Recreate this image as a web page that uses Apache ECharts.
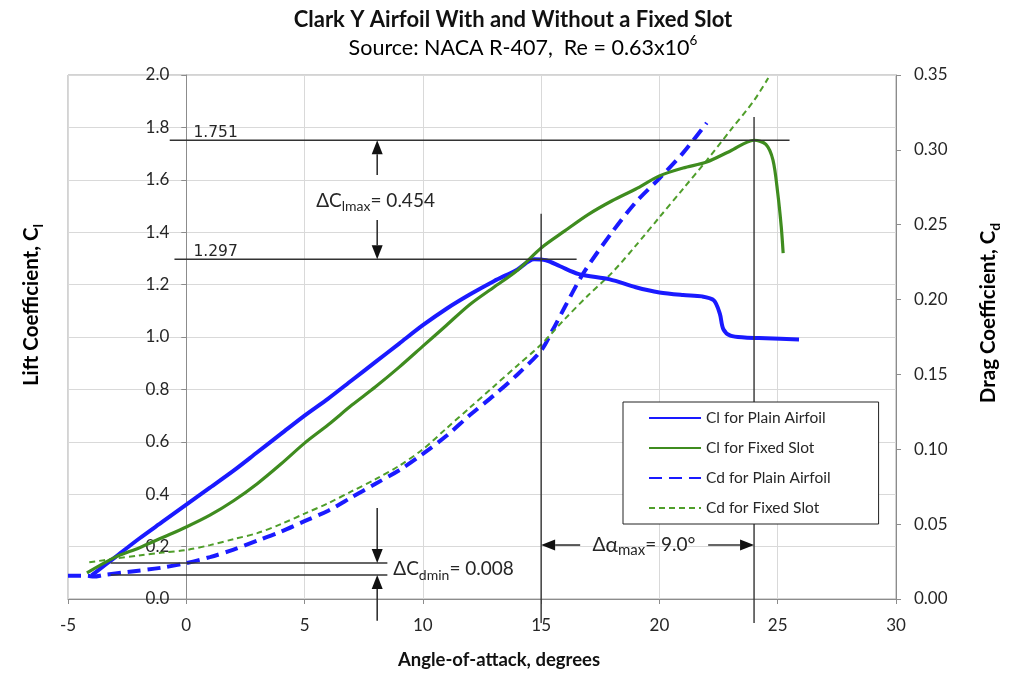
<!DOCTYPE html>
<html>
<head>
<meta charset="utf-8">
<script src="https://cdn.jsdelivr.net/npm/echarts@6/dist/echarts.min.js"></script>
<style>
  html, body { margin: 0; padding: 0; background: #fff; }
  #chart { width: 1013px; height: 673px; }
</style>
</head>
<body>
<div id="chart"></div>
<script>
// Clark Y airfoil, NACA R-407, Re = 0.63x10^6
// Lift coefficient, plain airfoil
const alphaClPlain = [-4.0, -3.0, -2.0, -1.0, 0, 1, 2, 3, 4, 5, 6, 7, 8, 9, 10, 11, 12, 13, 14, 14.7,
  15.2, 15.8, 16.6, 17.9, 19, 20, 21, 21.8, 22.3, 22.55, 22.7, 23.0, 23.6, 24.5, 25.9];
const clPlain = [0.09, 0.16, 0.23, 0.295, 0.36, 0.425, 0.49, 0.56, 0.63, 0.70, 0.765, 0.835, 0.905, 0.975, 1.045, 1.108, 1.163, 1.213, 1.258, 1.297,
  1.293, 1.27, 1.24, 1.22, 1.19, 1.17, 1.16, 1.155, 1.14, 1.09, 1.03, 1.005, 0.998, 0.995, 0.99];

// Lift coefficient, with fixed slot
const alphaClSlot = [-4.2, -3, -2, -1, 0, 1, 2, 3, 4, 5, 6, 7, 8, 9, 10, 11, 12, 13, 14, 15,
  16, 17, 18, 19, 20, 21, 22, 23, 24, 24.5, 24.8, 25.0, 25.15, 25.23];
const clSlot = [0.10, 0.16, 0.195, 0.235, 0.275, 0.32, 0.375, 0.44, 0.515, 0.595, 0.665, 0.74, 0.81, 0.885, 0.965, 1.045, 1.125, 1.19, 1.255, 1.34,
  1.405, 1.468, 1.52, 1.565, 1.615, 1.645, 1.668, 1.71, 1.751, 1.735, 1.675, 1.55, 1.42, 1.32];

// Drag coefficient, plain airfoil
const alphaCdPlain = [-5, -4.2, -3.9, -3.5, -2.5, -1, 0, 1, 2, 3, 4, 5, 6, 7, 8, 9, 10, 11, 12, 13, 14, 15,
  15.5, 16, 16.8, 18, 19, 20, 21, 22];
const cdPlain = [0.0155, 0.0155, 0.015, 0.016, 0.018, 0.021, 0.024, 0.028, 0.033, 0.039, 0.045, 0.052, 0.059, 0.068, 0.077, 0.086, 0.097, 0.109, 0.123, 0.136, 0.150, 0.166,
  0.180, 0.195, 0.218, 0.245, 0.265, 0.281, 0.298, 0.318];

// Drag coefficient, with fixed slot
const alphaCdSlot = [-4.1, -3, -2, -1, 0, 1, 2, 3, 4, 5, 6, 7, 8, 9, 10, 11, 12, 13, 14, 15,
  16, 17, 18, 19, 20, 21, 22, 23, 24, 24.6];
const cdSlot = [0.0245, 0.027, 0.029, 0.031, 0.0327, 0.036, 0.040, 0.044, 0.050, 0.057, 0.064, 0.072, 0.080, 0.089, 0.100, 0.114, 0.128, 0.142, 0.156, 0.170,
  0.187, 0.203, 0.218, 0.236, 0.255, 0.274, 0.293, 0.313, 0.333, 0.348];

// Key values called out on the chart
const clMaxPlain = 1.297, clMaxSlot = 1.751;
const alphaStallPlain = 15, alphaStallSlot = 24;
const cdMinPlain = 0.016, cdMinSlot = 0.024;

const seriesNames = ['Cl for Plain Airfoil', 'Cl for Fixed Slot', 'Cd for Plain Airfoil', 'Cd for Fixed Slot'];
const xTicks = { min: -5, max: 30, step: 5 };
const clTicks = { min: 0, max: 2, step: 0.2 };
const cdTicks = { min: 0, max: 0.35, step: 0.05 };

const BLUE = '#1a1aff';
const GREEN = '#3f8c1f';
const GREEN_D = '#4f9e2a';
const INK = '#262626';
const AXIS = '#8c8c8c';
const GRID = '#d9d9d9';
const SANS = 'Lato, "Open Sans", sans-serif';

const zip = (xs, ys) => xs.map((x, i) => [x, ys[i]]);

const chart = echarts.init(document.getElementById('chart'));

const tickStyle = { show: true, length: 5, lineStyle: { color: AXIS } };

chart.setOption({
  animation: false,
  backgroundColor: '#fff',
  grid: { left: 68, right: 117, top: 75, bottom: 74, show: true, borderColor: '#a6a6a6', borderWidth: 1, backgroundColor: 'transparent' },
  legend: {
    left: 623, top: 402, orient: 'vertical',
    padding: [8, 48, 8, 25],
    itemWidth: 52, itemHeight: 14, itemGap: 14,
    itemStyle: { opacity: 0 },
    backgroundColor: '#fff', borderColor: '#222', borderWidth: 1,
    textStyle: { fontFamily: SANS, fontSize: 15.5, color: INK },
    data: seriesNames, z: 10
  },
  xAxis: {
    type: 'value', min: xTicks.min, max: xTicks.max, interval: xTicks.step,
    axisLine: { onZero: false, lineStyle: { color: AXIS } },
    axisTick: tickStyle,
    axisLabel: { fontFamily: SANS, fontSize: 17, color: INK, margin: 18 },
    splitLine: { lineStyle: { color: GRID } }
  },
  yAxis: [
    {
      type: 'value', min: clTicks.min, max: clTicks.max, interval: clTicks.step,
      axisLine: { show: true, onZero: false, lineStyle: { color: AXIS } },
      axisTick: tickStyle,
      axisLabel: { formatter: v => v.toFixed(1), fontFamily: SANS, fontSize: 17, color: INK, margin: 17 },
      splitLine: { lineStyle: { color: GRID } }
    },
    {
      type: 'value', min: cdTicks.min, max: cdTicks.max, interval: cdTicks.step, position: 'right',
      axisLine: { show: true, onZero: false, lineStyle: { color: AXIS } },
      axisTick: tickStyle,
      axisLabel: { formatter: v => v.toFixed(2), fontFamily: SANS, fontSize: 17, color: INK, margin: 18 },
      splitLine: { show: false }
    }
  ],
  series: [
    { name: seriesNames[0], type: 'line', yAxisIndex: 0, data: zip(alphaClPlain, clPlain), symbol: 'none', smooth: 0.3,
      lineStyle: { color: BLUE, width: 4 }, itemStyle: { color: BLUE }, z: 4 },
    { name: seriesNames[1], type: 'line', yAxisIndex: 0, data: zip(alphaClSlot, clSlot), symbol: 'none', smooth: 0.3,
      lineStyle: { color: GREEN, width: 3.2 }, itemStyle: { color: GREEN }, z: 4 },
    { name: seriesNames[2], type: 'line', yAxisIndex: 1, data: zip(alphaCdPlain, cdPlain), symbol: 'none', smooth: 0.3,
      lineStyle: { color: BLUE, width: 4, type: [13, 7] }, itemStyle: { color: BLUE }, z: 3 },
    { name: seriesNames[3], type: 'line', yAxisIndex: 1, data: zip(alphaCdSlot, cdSlot), symbol: 'none', smooth: 0.3,
      lineStyle: { color: GREEN_D, width: 2, type: [6, 4] }, itemStyle: { color: GREEN_D }, z: 3 }
  ]
});

// The lift axis is drawn on the zero-angle line
const xPix = v => chart.convertToPixel({ xAxisIndex: 0 }, v);
chart.setOption({ yAxis: [{ offset: -(xPix(0) - xPix(xTicks.min)) }, {}] });

// ---- annotations, placed through the axes' own scales ----
const pL = (a, cl) => chart.convertToPixel({ xAxisIndex: 0, yAxisIndex: 0 }, [a, cl]);
const pD = (a, cd) => chart.convertToPixel({ xAxisIndex: 0, yAxisIndex: 1 }, [a, cd]);

const LINE_C = '#333';
function seg(p1, p2, w) {
  return { type: 'line', z: 5, silent: true,
    shape: { x1: p1[0], y1: p1[1], x2: p2[0], y2: p2[1] },
    style: { stroke: LINE_C, lineWidth: w || 1.5 } };
}
function arrow(from, to) {
  const dx = to[0] - from[0], dy = to[1] - from[1];
  const len = Math.hypot(dx, dy), ux = dx / len, uy = dy / len;
  const hl = 14, hw = 5.5;
  const bx = to[0] - ux * hl, by = to[1] - uy * hl;
  return [
    seg(from, [bx, by], 1.6),
    { type: 'polygon', z: 5, silent: true,
      shape: { points: [to, [bx - uy * hw, by + ux * hw], [bx + uy * hw, by - ux * hw]] },
      style: { fill: '#111' } }
  ];
}
function label(p, rich, text, align) {
  return { type: 'text', z: 6, silent: true, x: p[0], y: p[1],
    style: { text: text, rich: rich, align: align || 'left', verticalAlign: 'middle',
      fill: INK, fontFamily: SANS, fontSize: 19 } };
}
const subRich = {
  a: { fontFamily: SANS, fontSize: 19, color: INK, lineHeight: 26, verticalAlign: 'middle' },
  s: { fontFamily: SANS, fontSize: 14, color: '#555', lineHeight: 13, verticalAlign: 'bottom' }
};
const numStyle = { fontFamily: '"DejaVu Sans", sans-serif', fontSize: 15.5 };

const g = [];
// Cl max reference lines
g.push(seg(pL(-0.7, clMaxSlot), pL(25.5, clMaxSlot), 1.6));
g.push(seg(pL(-0.5, clMaxPlain), pL(16.5, clMaxPlain), 1.6));
// stall angle verticals
g.push(seg(pL(alphaStallPlain, 1.47), pL(alphaStallPlain, -0.092), 1.4));
g.push(seg(pL(alphaStallSlot, 1.84), pL(alphaStallSlot, -0.092), 1.4));
// value tags
[clMaxSlot, clMaxPlain].forEach(v => {
  const p = pL(0.3, v);
  g.push({ type: 'text', z: 6, silent: true, x: p[0], y: p[1] + 1,
    style: Object.assign({ text: v.toFixed(3), fill: INK, align: 'left', verticalAlign: 'bottom' }, numStyle) });
});
// delta Cl max
g.push(...arrow(pL(8.07, 1.618), pL(8.07, clMaxSlot)));
g.push(...arrow(pL(8.07, 1.447), pL(8.07, clMaxPlain)));
g.push(label(pL(8.0, 1.52), subRich,
  '{a|\u0394C}{s|lmax}{a|= ' + (clMaxSlot - clMaxPlain).toFixed(3) + '}', 'center'));
// delta Cd min
g.push(seg(pD(-3.2, cdMinSlot), pD(8.5, cdMinSlot), 1.6));
g.push(seg(pD(-3.2, cdMinPlain), pD(8.5, cdMinPlain), 1.6));
g.push(...arrow(pD(8.07, 0.0608), pD(8.07, cdMinSlot)));
g.push(...arrow(pD(8.07, -0.0145), pD(8.07, cdMinPlain)));
g.push(label(pD(8.75, (cdMinSlot + cdMinPlain) / 2), subRich,
  '{a|\u0394C}{s|dmin}{a|= ' + (cdMinSlot - cdMinPlain).toFixed(3) + '}', 'left'));
// delta alpha max
g.push(...arrow(pL(16.65, 0.206), pL(alphaStallPlain, 0.206)));
g.push(...arrow(pL(22.06, 0.206), pL(alphaStallSlot, 0.206)));
g.push(label(pL(19.35, 0.206), {
    a: { fontFamily: SANS, fontSize: 19, color: INK, lineHeight: 26, verticalAlign: 'middle' },
    g: { fontFamily: SANS, fontSize: 21, color: INK, lineHeight: 26, verticalAlign: 'middle' },
    s: { fontFamily: SANS, fontSize: 15, color: INK, lineHeight: 13, verticalAlign: 'bottom' }
  },
  '{a|\u0394}{g|\u03b1}{s|max}{a|= ' + (alphaStallSlot - alphaStallPlain).toFixed(1) + '\u00b0}', 'center'));

// titles and axis names
g.push({ type: 'text', z: 6, silent: true, x: 513, y: 20,
  style: { text: 'Clark Y Airfoil With and Without a Fixed Slot', align: 'center', verticalAlign: 'middle',
    fill: '#111', fontFamily: SANS, fontWeight: 'bold', fontSize: 22 } });
g.push({ type: 'text', z: 6, silent: true, x: 523, y: 48,
  style: { text: '{a|Source: NACA R-407,  Re = 0.63x10}{p|6}', align: 'center', verticalAlign: 'middle',
    rich: {
      a: { fontFamily: SANS, fontSize: 21.5, color: '#111', lineHeight: 28, verticalAlign: 'middle' },
      p: { fontFamily: SANS, fontSize: 13.5, color: '#111', lineHeight: 13, verticalAlign: 'top' }
    } } });
const nameRich = {
  a: { fontFamily: SANS, fontSize: 20.5, fontWeight: 'bold', color: '#111', lineHeight: 28, verticalAlign: 'middle' },
  s: { fontFamily: SANS, fontSize: 14, fontWeight: 'bold', color: '#111', lineHeight: 12, verticalAlign: 'bottom' }
};
g.push({ type: 'text', z: 6, silent: true, x: 31, y: 305, rotation: Math.PI / 2,
  style: { text: '{a|Lift Coefficient, C}{s|l}', rich: nameRich, align: 'center', verticalAlign: 'middle' } });
g.push({ type: 'text', z: 6, silent: true, x: 988, y: 313, rotation: Math.PI / 2,
  style: { text: '{a|Drag Coefficient, C}{s|d}', rich: nameRich, align: 'center', verticalAlign: 'middle' } });
g.push({ type: 'text', z: 6, silent: true, x: 499, y: 660,
  style: { text: 'Angle-of-attack, degrees', align: 'center', verticalAlign: 'middle',
    fill: '#111', fontFamily: SANS, fontWeight: 'bold', fontSize: 18.5 } });

chart.setOption({ graphic: { elements: g } });
</script>
</body>
</html>
